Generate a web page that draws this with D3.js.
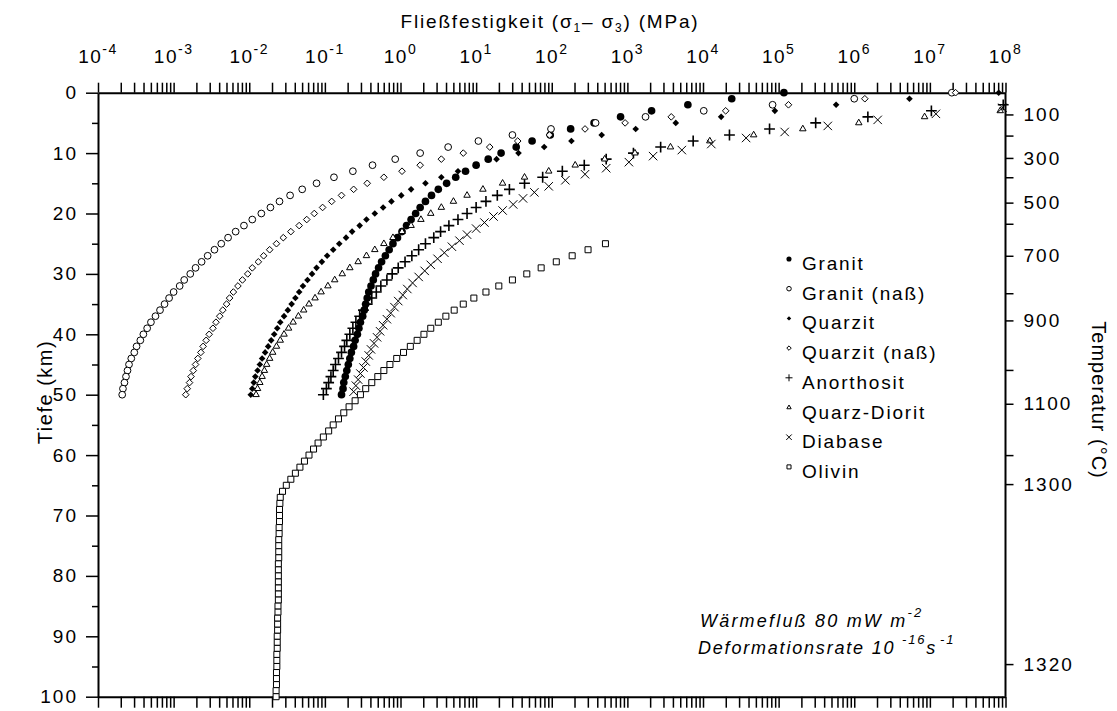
<!DOCTYPE html>
<html>
<head>
<meta charset="utf-8">
<script src="https://cdn.jsdelivr.net/npm/d3@7"></script>
<style>
  body { margin: 0; background: #fff; }
  text { font-family: "Liberation Sans", Arial, sans-serif; fill: #000; }
</style>
</head>
<body>
<div id="chart"></div>
<script>
// values: log10 of yield strength (MPa), one point per km depth; null = off the chart
var depthKm = d3.range(0, 51);
var diabaseDepthKm = d3.range(2.5, 50, 1);
var olivinDepthKm = d3.range(25, 101);

var granit = [5.07, 4.38, 3.80, 3.32, 2.91, 2.56, 2.25, 1.98, 1.74, 1.53,
  1.33, 1.16, 1.00, 0.86, 0.73, 0.61, 0.50, 0.41, 0.33, 0.26,
  0.20, 0.14, 0.08, 0.02, -0.04, -0.10, -0.15, -0.20, -0.25, -0.29,
  -0.33, -0.36, -0.39, -0.42, -0.44, -0.46, -0.48, -0.50, -0.53, -0.55,
  -0.57, -0.60, -0.62, -0.65, -0.67, -0.69, -0.71, -0.73, -0.75, -0.76, -0.78];

var granitNass = [7.29, 6.00, 4.92, 4.01, 3.24, 2.58, 1.99, 1.48, 1.03, 0.63,
  0.26, -0.07, -0.37, -0.63, -0.88, -1.11, -1.30, -1.46, -1.60, -1.72,
  -1.84, -1.96, -2.07, -2.18, -2.28, -2.37, -2.46, -2.55, -2.63, -2.71,
  -2.78, -2.86, -2.92, -3.00, -3.06, -3.12, -3.18, -3.24, -3.30, -3.35,
  -3.40, -3.44, -3.49, -3.52, -3.56, -3.59, -3.61, -3.63, -3.65, -3.67, -3.68];

var quarzit = [7.91, 6.73, 5.76, 4.95, 4.24, 3.64, 3.11, 2.66, 2.26, 1.90,
  1.56, 1.27, 1.00, 0.76, 0.54, 0.33, 0.14, 0.01, -0.12, -0.23,
  -0.34, -0.45, -0.54, -0.64, -0.72, -0.81, -0.89, -0.97, -1.04, -1.11,
  -1.17, -1.23, -1.29, -1.34, -1.39, -1.44, -1.49, -1.54, -1.59, -1.63,
  -1.67, -1.71, -1.75, -1.79, -1.83, -1.86, -1.89, -1.92, -1.94, -1.96, -1.98];

var quarzitNass = [7.34, 6.14, 5.13, 4.30, 3.58, 2.97, 2.44, 1.97, 1.55, 1.18,
  0.83, 0.54, 0.26, 0.02, -0.22, -0.44, -0.62, -0.78, -0.91, -1.03,
  -1.14, -1.24, -1.34, -1.45, -1.55, -1.64, -1.73, -1.81, -1.88, -1.96,
  -2.02, -2.09, -2.15, -2.21, -2.26, -2.30, -2.35, -2.39, -2.44, -2.48,
  -2.53, -2.57, -2.61, -2.64, -2.68, -2.71, -2.74, -2.77, -2.79, -2.82, -2.84];

var anorthosit = [null, null, 7.97, 7.02, 6.18, 5.49, 4.88, 4.35, 3.87, 3.44,
  3.08, 2.72, 2.43, 2.14, 1.88, 1.64, 1.44, 1.28, 1.13, 1.00,
  0.88, 0.76, 0.64, 0.53, 0.44, 0.33, 0.24, 0.15, 0.06, -0.03,
  -0.11, -0.18, -0.26, -0.32, -0.38, -0.44, -0.49, -0.54, -0.59, -0.63,
  -0.67, -0.71, -0.74, -0.78, -0.82, -0.86, -0.89, -0.92, -0.95, -0.98, -1.02];

var quarzDiorit = [null, null, null, 7.93, 6.93, 6.06, 5.32, 4.67, 4.09, 3.57,
  3.10, 2.70, 2.31, 1.96, 1.64, 1.35, 1.09, 0.88, 0.70, 0.54,
  0.40, 0.27, 0.14, 0.02, -0.10, -0.22, -0.34, -0.45, -0.56, -0.67,
  -0.77, -0.87, -0.96, -1.05, -1.13, -1.21, -1.28, -1.35, -1.42, -1.48,
  -1.54, -1.59, -1.64, -1.69, -1.73, -1.77, -1.80, -1.83, -1.86, -1.89, -1.91];

var diabase = [7.96, 7.08, 6.31, 5.65, 5.08, 4.57, 4.11, 3.72, 3.34, 3.02,
  2.72, 2.44, 2.18, 1.96, 1.77, 1.62, 1.49, 1.35, 1.23, 1.11,
  1.00, 0.88, 0.78, 0.68, 0.58, 0.49, 0.40, 0.32, 0.24, 0.16,
  0.09, 0.03, -0.03, -0.08, -0.13, -0.18, -0.23, -0.27, -0.31, -0.35,
  -0.39, -0.42, -0.46, -0.49, -0.53, -0.56, -0.59, -0.62];

var olivin = [2.71, 2.48, 2.27, 2.06, 1.86, 1.67, 1.48, 1.30, 1.13, 0.97,
  0.83, 0.71, 0.60, 0.50, 0.40, 0.31, 0.22, 0.13, 0.04, -0.05,
  -0.14, -0.22, -0.30, -0.38, -0.46, -0.53, -0.60, -0.68, -0.75, -0.82,
  -0.89, -0.95, -1.02, -1.09, -1.15, -1.21, -1.27, -1.33, -1.39, -1.45,
  -1.51, -1.56, -1.59, -1.595, -1.60, -1.60, -1.60, -1.605, -1.605, -1.61,
  -1.61, -1.61, -1.61, -1.615, -1.615, -1.615, -1.615, -1.615, -1.615, -1.615,
  -1.62, -1.62, -1.625, -1.625, -1.625, -1.63, -1.63, -1.63, -1.635, -1.635,
  -1.635, -1.64, -1.64, -1.64, -1.645, -1.645];

var legendNames = ["Granit", "Granit (naß)", "Quarzit", "Quarzit (naß)",
  "Anorthosit", "Quarz-Diorit", "Diabase", "Olivin"];

// right axis: temperature (°C) and the depth (km) it sits at
var tempTicks = [100, 200, 300, 400, 500, 600, 700, 800, 900, 1000, 1100, 1200, 1300, 1320];
var tempDepthKm = [3.6, 7.1, 10.8, 14.0, 18.2, 21.7, 27.0, 33.2, 37.7, 45.9, 51.5, 60.0, 64.8, 94.6];
var tempLabeled = [100, 300, 500, 700, 900, 1100, 1300, 1320];

var svgWidth = 1117;
var svgHeight = 711;
var margin = { top: 92.7, right: 111.5, bottom: 14.3, left: 98 };
var width = svgWidth - margin.left - margin.right;
var height = svgHeight - margin.top - margin.bottom;

var svg = d3.select("#chart").append("svg")
  .attr("width", svgWidth)
  .attr("height", svgHeight)
  .style("background", "#fff");

var chartGroup = svg.append("g")
  .attr("transform", `translate(${margin.left}, ${margin.top})`);

var xScale = d3.scaleLog().domain([1e-4, 1e8]).range([0, width]);
var yScale = d3.scaleLinear().domain([0, 100]).range([0, height]);
var tScale = d3.scaleLinear().domain(tempTicks).range(tempDepthKm.map(d => yScale(d)));

// log ticks 1..9 per decade
var logTicks = [];
d3.range(-4, 8).forEach(function(k) {
  d3.range(1, 10).forEach(function(m) { logTicks.push(m * Math.pow(10, k)); });
});
logTicks.push(1e8);

function styleAxis(g) {
  g.select(".domain").attr("stroke-width", 2);
  g.selectAll(".tick line").attr("stroke-width", 1.5);
  g.selectAll(".tick text")
    .style("font-family", "'Liberation Sans', Arial, sans-serif")
    .style("font-size", "19px")
    .style("letter-spacing", "2px")
    .attr("fill", "#000");
}

chartGroup.append("g")
  .call(d3.axisTop(xScale).tickValues(logTicks).tickSize(10).tickSizeOuter(0).tickFormat(""))
  .call(styleAxis);

chartGroup.append("g")
  .attr("transform", `translate(0, ${height})`)
  .call(d3.axisBottom(xScale).tickValues(logTicks).tickSize(11).tickSizeOuter(0).tickFormat(""))
  .call(styleAxis);

chartGroup.append("g")
  .call(d3.axisLeft(yScale).tickValues(d3.range(0, 101, 10)).tickSize(12).tickPadding(8).tickSizeOuter(0))
  .call(styleAxis);

chartGroup.append("g")
  .call(d3.axisLeft(yScale).tickValues(d3.range(5, 100, 10)).tickSize(6).tickSizeOuter(0).tickFormat(""))
  .call(styleAxis)
  .select(".domain").remove();

chartGroup.append("g")
  .attr("transform", `translate(${width}, 0)`)
  .call(d3.axisRight(tScale).tickValues(tempTicks).tickSize(8).tickPadding(10).tickSizeOuter(0)
    .tickFormat(d => tempLabeled.indexOf(d) >= 0 ? d : ""))
  .call(styleAxis)
  .select(".domain").attr("d", `M0,0V${height}`);

// decade labels on the top axis
d3.range(-4, 9).forEach(function(k) {
  var t = chartGroup.append("text")
    .attr("x", xScale(Math.pow(10, k)))
    .attr("y", -30)
    .attr("text-anchor", "middle")
    .style("font-size", "19px")
    .style("letter-spacing", "1.5px");
  t.append("tspan").text("10");
  t.append("tspan").attr("dy", -9).style("font-size", "14px").text(k);
});

// title
var title = svg.append("text")
  .attr("x", 550)
  .attr("y", 28)
  .attr("text-anchor", "middle")
  .style("font-size", "19px")
  .style("letter-spacing", "1.8px");
title.append("tspan").text("Fließfestigkeit (σ");
title.append("tspan").attr("dy", 4).style("font-size", "12px").text("1");
title.append("tspan").attr("dy", -4).text("– σ");
title.append("tspan").attr("dy", 4).style("font-size", "12px").text("3");
title.append("tspan").attr("dy", -4).text(") (MPa)");

svg.append("text")
  .attr("transform", `translate(52, 392) rotate(-90)`)
  .attr("text-anchor", "middle")
  .style("font-size", "20px")
  .style("letter-spacing", "1.5px")
  .text("Tiefe (km)");

svg.append("text")
  .attr("transform", `translate(1092, 400) rotate(90)`)
  .attr("text-anchor", "middle")
  .style("font-size", "20px")
  .style("letter-spacing", "1px")
  .text("Temperatur (°C)");

// series
var series = [
  { name: "Granit", depth: depthKm, values: granit, type: d3.symbolCircle, size: 46, fill: "#000", stroke: "none" },
  { name: "Granit (naß)", depth: depthKm, values: granitNass, type: d3.symbolCircle, size: 36, fill: "#fff", stroke: "#000" },
  { name: "Quarzit", depth: depthKm, values: quarzit, type: d3.symbolDiamond2, size: 28, fill: "#000", stroke: "none" },
  { name: "Quarzit (naß)", depth: depthKm, values: quarzitNass, type: d3.symbolDiamond2, size: 28, fill: "#fff", stroke: "#000" },
  { name: "Anorthosit", depth: depthKm, values: anorthosit, type: d3.symbolPlus, size: 40, fill: "none", stroke: "#000", sw: 1.6 },
  { name: "Quarz-Diorit", depth: depthKm, values: quarzDiorit, type: d3.symbolTriangle2, size: 30, fill: "#fff", stroke: "#000" },
  { name: "Diabase", depth: diabaseDepthKm, values: diabase, type: d3.symbolTimes, size: 48, fill: "none", stroke: "#000" },
  { name: "Olivin", depth: olivinDepthKm, values: olivin, type: d3.symbolSquare2, size: 46, fill: "#fff", stroke: "#000" }
];

series.forEach(function(s) {
  var pts = s.values.map((v, i) => ({ depth: s.depth[i], v: v })).filter(p => p.v !== null);
  chartGroup.append("g").selectAll("path")
    .data(pts)
    .enter()
    .append("path")
    .attr("transform", d => `translate(${xScale(Math.pow(10, d.v))}, ${yScale(d.depth)})`)
    .attr("d", d3.symbol().type(s.type).size(s.size))
    .attr("fill", s.fill)
    .attr("stroke", s.stroke)
    .attr("stroke-width", s.sw || 1);
});

// legend
var legend = svg.append("g").attr("transform", "translate(789, 263)");
series.forEach(function(s, i) {
  var row = legend.append("g").attr("transform", `translate(0, ${i * 29.7})`);
  row.append("path")
    .attr("transform", "translate(0, -4)")
    .attr("d", d3.symbol().type(s.type).size(s.size * 0.45))
    .attr("fill", s.fill)
    .attr("stroke", s.stroke)
    .attr("stroke-width", 1);
  row.append("text")
    .attr("x", 13)
    .attr("y", 2)
    .attr("dominant-baseline", "middle")
    .style("font-size", "19px")
    .style("letter-spacing", "1.8px")
    .text(legendNames[i]);
});

// annotation
var note1 = svg.append("text").attr("x", 700).attr("y", 627)
  .style("font-size", "18px").style("font-style", "italic").style("letter-spacing", "2.2px");
note1.append("tspan").text("Wärmefluß 80 mW m");
note1.append("tspan").attr("dy", -10).style("font-size", "13px").text("-2");

var note2 = svg.append("text").attr("x", 698).attr("y", 654)
  .style("font-size", "18px").style("font-style", "italic").style("letter-spacing", "1.8px");
note2.append("tspan").text("Deformationsrate 10 ");
note2.append("tspan").attr("dy", -10).style("font-size", "13px").text("-16");
note2.append("tspan").attr("dy", 10).text("s");
note2.append("tspan").attr("dy", -10).attr("dx", 3).style("font-size", "13px").text("-1");
</script>
</body>
</html>
